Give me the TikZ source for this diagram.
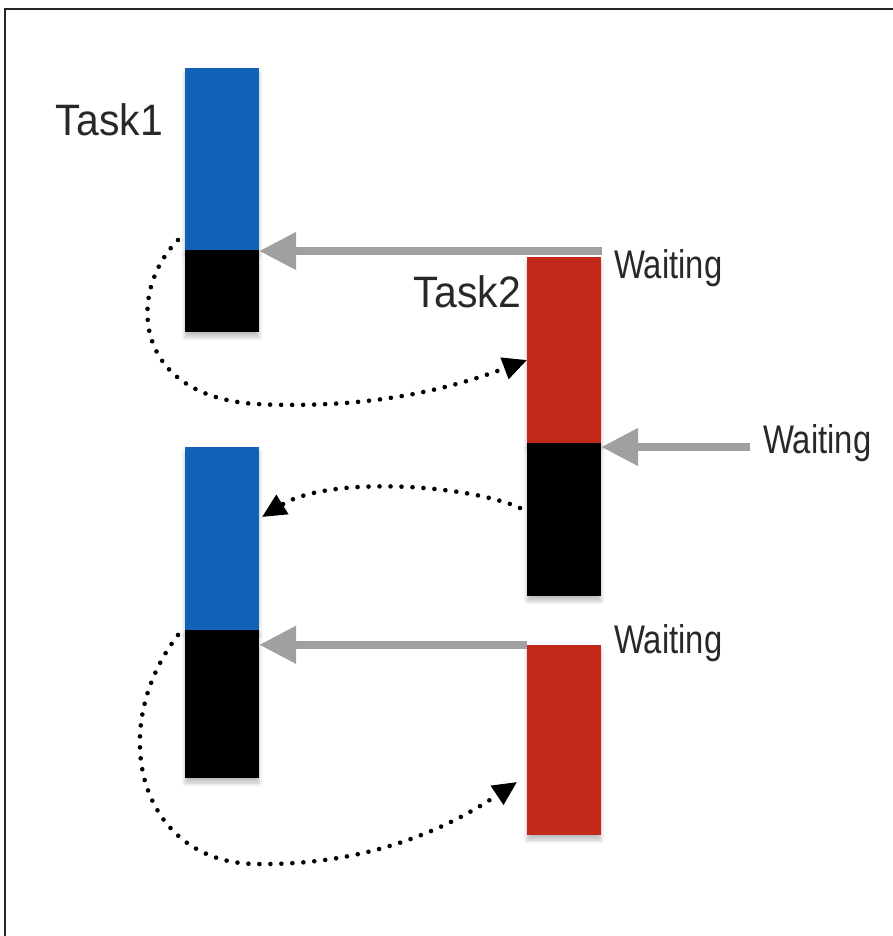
\documentclass[tikz,border=0pt]{standalone}
\usepackage{fontspec}
\setmainfont{Liberation Sans}
\newfontfamily\taskfont[FakeStretch=0.93]{Liberation Sans}
\newfontfamily\waitfont[FakeStretch=0.82]{Liberation Sans}
\usetikzlibrary{arrows.meta,shadows.blur,calc}
\definecolor{tblue}{RGB}{18,98,184}
\definecolor{tred}{RGB}{194,41,26}
\definecolor{tgray}{RGB}{160,160,160}
\definecolor{ttext}{RGB}{40,40,40}
\tikzset{
  bar/.style={draw=none, inner sep=0pt, minimum width=74pt,
    blur shadow={shadow xshift=0pt, shadow yshift=-5pt, shadow opacity=25, shadow blur radius=4pt}},
  tasklabel/.style={inner sep=0pt, text=ttext, font=\taskfont\fontsize{44}{50}\selectfont},
  waitlabel/.style={inner sep=0pt, text=ttext, font=\waitfont\fontsize{40}{46}\selectfont},
  waitarrow/.style={draw=tgray, line width=8pt, -{Triangle[length=37pt,width=36pt]}},
  flow/.style={draw=black, line width=4.6pt, line cap=round, dash pattern=on 0pt off 11pt,
    -{Triangle[length=24pt,width=22pt]}},
}
\begin{document}
\begin{tikzpicture}[x=1pt,y=-1pt]
\useasboundingbox (0,0) rectangle (893,936);
\draw[line width=2pt, draw=black!85] (5,936) -- (5,9) -- (893,9);

% bars
\node[bar, fill=tblue, minimum height=182pt] (b1top) at (222,159) {};
\node[bar, fill=black, minimum height=82pt] (b1bot) at (222,291) {};
\node[bar, fill=tred, minimum height=186pt] (r1top) at (564,350) {};
\node[bar, fill=black, minimum height=153pt] (r1bot) at (564,519.5) {};
\node[bar, fill=tblue, minimum height=183pt] (b2top) at (222,538.5) {};
\node[bar, fill=black, minimum height=148pt] (b2bot) at (222,704) {};
\node[bar, fill=tred, minimum height=190pt] (r2) at (564,740) {};

% labels
\node[tasklabel, anchor=base east] (t1) at (163,136) {Task1};
\node[tasklabel, anchor=base east] (t2) at (521,307) {Task2};
\node[waitlabel, anchor=base west] (w1) at (614,278) {Waiting};
\node[waitlabel, anchor=base west] (w2) at (763,453) {Waiting};
\node[waitlabel, anchor=base west] (w3) at (614,653) {Waiting};

% waiting arrows
\coordinate (a1s) at (602,251);
\coordinate (a2s) at (750,447);
\draw[waitarrow] (a1s) -- (b1bot.north east |- a1s);
\draw[waitarrow] (a2s) -- (r1bot.north east |- a2s);
\draw[waitarrow] (r2.north west) -- (b2bot.east |- r2.north west);

% flow curves
\coordinate (c1s) at (178,240);
\coordinate (c1e) at (527,360);
\draw[flow] (c1s) .. controls (128,290) and (130,395) .. (255,404)
  .. controls (380,410) and (460,385) .. (c1e);
\coordinate (c2s) at (520,508);
\coordinate (c2e) at (262,517);
\draw[flow] (c2s) .. controls (470,485) and (330,475) .. (c2e);
\coordinate (c3s) at (178,635);
\coordinate (c3e) at (517,782);
\draw[flow] (c3s) .. controls (105,730) and (140,862) .. (255,864)
  .. controls (380,866) and (460,820) .. (c3e);
\end{tikzpicture}
\end{document}
